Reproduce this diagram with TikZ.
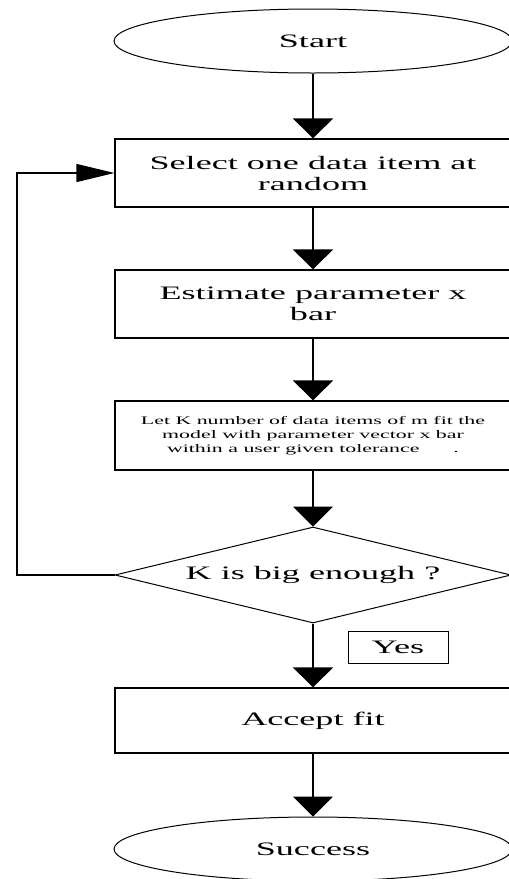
\documentclass[tikz,border=0pt]{standalone}
\usepackage{fontspec}
\setmainfont{Liberation Serif}[FakeStretch=1.9]
\usetikzlibrary{shapes.geometric,arrows.meta}

\begin{document}
\begin{tikzpicture}[x=1pt, y=-1pt,
  every node/.style={font=\fontsize{19}{21}\selectfont, align=center},
  term/.style={draw, ellipse, minimum width=398pt, minimum height=64pt, line width=1pt},
  proc/.style={draw, rectangle, minimum width=396pt, inner sep=0pt, line width=1.2pt},
  test/.style={draw, diamond, aspect=4.1, minimum width=396pt, minimum height=96pt, inner sep=0pt, line width=1pt},
  flow/.style={line width=1.6pt, -{Triangle[width=40pt,length=20pt]}},
  back/.style={line width=1.2pt, -{Triangle[width=18pt,length=38pt]}}]
\useasboundingbox (0,0) rectangle (509,879);

\node[term] (start) at (313,41) {Start};
\node[proc, minimum height=68pt] (select) at (313,173) {Select one data item at\\random};
\node[proc, minimum height=68pt] (estimate) at (313,304) {Estimate parameter x\\bar};
\node[proc, minimum height=69pt, font=\fontsize{11.5}{14}\selectfont] (fitk) at (313,435.5)
  {Let K number of data items of m fit the\\model with parameter vector x bar\\within a user given tolerance\hspace{34pt}.};
\node[test] (bigk) at (313,575) {K is big enough ?};
\node[draw, line width=1pt, minimum width=100pt, minimum height=32pt, inner sep=0pt] (yes) at (398,647) {Yes};
\node[proc, minimum height=65pt] (accept) at (313,720.5) {Accept fit};
\node[term] (success) at (313,849) {Success};

\coordinate (corner) at (17,575);

\draw[flow] (start) -- (select);
\draw[flow] (select) -- (estimate);
\draw[flow] (estimate) -- (fitk);
\draw[flow] (fitk) -- (bigk);
\draw[flow] (bigk) -- (accept);
\draw[flow] (accept) -- (success);
\draw[back] (bigk.west) -- (corner) |- (select.west);
\end{tikzpicture}
\end{document}
